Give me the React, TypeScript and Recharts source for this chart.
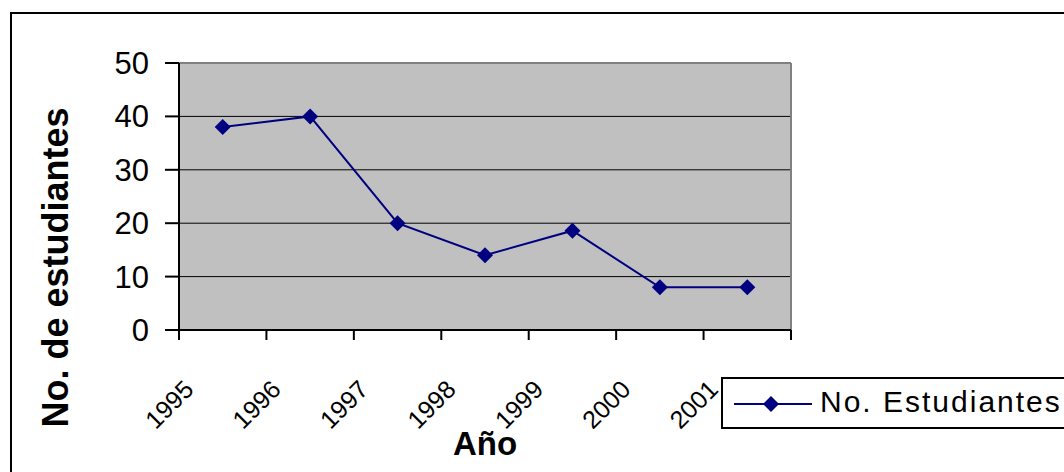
import React from "react";
import {
  LineChart,
  Line,
  XAxis,
  YAxis,
  CartesianGrid,
  ReferenceLine,
} from "recharts";

const years = ["1995", "1996", "1997", "1998", "1999", "2000", "2001"];
const students = [38, 40, 20, 14, 18.6, 8, 8];
const yTicks = [0, 10, 20, 30, 40, 50];
const seriesName = "No. Estudiantes";
const xTitle = "Año";
const yTitle = "No. de estudiantes";

const FONT = "Arial, 'Liberation Sans', sans-serif";
const NAVY = "#000080";

// each year sits in the middle of its slot, ticks mark the slot edges
const data = years.map((year, i) => ({year, pos: i + 0.5, students: students[i]}));
const xTicks = [...years.map((_, i) => i), years.length];

function Diamond({cx, cy}: {cx?: number; cy?: number}) {
  if (cx == null || cy == null) return null;
  const r = 8;
  return (
    <polygon
      points={`${cx},${cy - r} ${cx + r},${cy} ${cx},${cy + r} ${cx - r},${cy}`}
      fill={NAVY}
    />
  );
}

function YearTick({x, y, payload}: {x?: number; y?: number; payload?: {value: number}}) {
  const label = years[payload?.value ?? -1];
  if (!label || x == null || y == null) return null;
  return (
    <text
      transform={`translate(${x + 16},${y + 49}) rotate(-45)`}
      textAnchor="end"
      fontFamily={FONT}
      fontSize={25}
      fill="#000"
    >
      {label}
    </text>
  );
}

function XTitle({viewBox}: {viewBox?: {x: number; y: number; width: number}}) {
  if (!viewBox) return null;
  return (
    <text
      x={viewBox.x + viewBox.width / 2}
      y={viewBox.y + 125}
      textAnchor="middle"
      fontFamily={FONT}
      fontSize={33}
      fontWeight="bold"
      fill="#000"
    >
      {xTitle}
    </text>
  );
}

function YTitle({viewBox}: {viewBox?: {x: number; y: number; height: number}}) {
  if (!viewBox) return null;
  const x = viewBox.x - 11;
  const y = viewBox.y + viewBox.height / 2 + 71;
  return (
    <text
      transform={`translate(${x},${y}) rotate(-90)`}
      textAnchor="middle"
      fontFamily={FONT}
      fontSize={36}
      fontWeight="bold"
      fill="#000"
    >
      {yTitle}
    </text>
  );
}

function LegendBox() {
  return (
    <svg
      width={343}
      height={52}
      style={{position: "fixed", left: 721, top: 377}}
    >
      <path d="M343,1 H1 V51 H343" fill="#fff" stroke="#000" strokeWidth={2} />
      <line x1={13} y1={27} x2={91} y2={27} stroke={NAVY} strokeWidth={2} />
      <Diamond cx={50} cy={27} />
      <text x={99} y={35} fontFamily={FONT} fontSize={30} letterSpacing={2} fill="#000">
        {seriesName}
      </text>
    </svg>
  );
}

export default function App() {
  return (
    <div>
      <div
        style={{
          position: "fixed",
          left: 10,
          top: 12,
          width: 1054,
          height: 460,
          borderLeft: "2px solid #000",
          borderTop: "2px solid #000",
          boxSizing: "border-box",
          background: "#fff",
        }}
      />
      <div style={{position: "fixed", left: 0, top: 0}}>
        <LineChart
          width={1064}
          height={472}
          data={data}
          margin={{top: 63, right: 273, left: 79, bottom: 82}}
        >
          <CartesianGrid
            vertical={false}
            stroke="#000"
            fill="#C0C0C0"
            fillOpacity={1}
          />
          <XAxis
            type="number"
            dataKey="pos"
            domain={[0, years.length]}
            ticks={xTicks}
            interval={0}
            height={60}
            axisLine={{stroke: "#000", strokeWidth: 2}}
            tickLine={{stroke: "#000", strokeWidth: 2}}
            tickSize={10}
            tick={<YearTick />}
            label={{content: <XTitle />}}
          />
          <YAxis
            domain={[0, 50]}
            ticks={yTicks}
            interval={0}
            width={100}
            axisLine={{stroke: "#000", strokeWidth: 2}}
            tickLine={{stroke: "#000", strokeWidth: 2}}
            tickSize={14}
            tickMargin={16}
            tick={{fontFamily: FONT, fontSize: 31, fill: "#000"}}
            label={{content: <YTitle />}}
          />
          <ReferenceLine y={50} stroke="#808080" strokeWidth={2} />
          <ReferenceLine x={years.length} stroke="#808080" strokeWidth={2} />
          <Line
            type="linear"
            dataKey="students"
            name={seriesName}
            stroke={NAVY}
            strokeWidth={2}
            dot={<Diamond />}
            activeDot={false}
            isAnimationActive={false}
          />
        </LineChart>
      </div>
      <LegendBox />
    </div>
  );
}
